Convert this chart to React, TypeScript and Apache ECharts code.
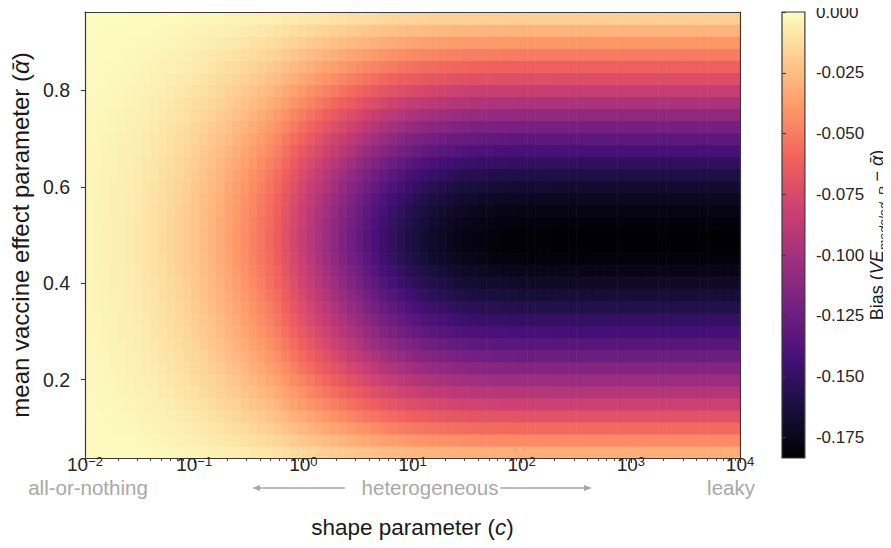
import React, { useEffect, useRef } from "react";
import * as echarts from "echarts";

// Row centres: mean vaccine effect parameter (alpha bar), bottom to top
const ALPHA_VALUES = [
  0.05, 0.075, 0.1, 0.125, 0.15, 0.175, 0.2, 0.225, 0.25, 0.275, 0.3, 0.325,
  0.35, 0.375, 0.4, 0.425, 0.45, 0.475, 0.5, 0.525, 0.55, 0.575, 0.6, 0.625,
  0.65, 0.675, 0.7, 0.725, 0.75, 0.775, 0.8, 0.825, 0.85, 0.875, 0.9, 0.925, 0.95,
];
const ALPHA_STEP = 0.025;

// Bias reached in the leaky limit (right edge of the map), one value per row above
const LEAKY_BIAS = [
  -0.031, -0.045, -0.058, -0.07, -0.082, -0.093, -0.104, -0.115, -0.125, -0.134,
  -0.143, -0.151, -0.158, -0.165, -0.171, -0.176, -0.181, -0.183, -0.183, -0.181,
  -0.178, -0.174, -0.168, -0.161, -0.152, -0.142, -0.132, -0.121, -0.109, -0.097,
  -0.085, -0.073, -0.062, -0.051, -0.04, -0.029, -0.018,
];

// Share of the leaky-limit bias reached in each shape-parameter column
// (read along the alpha = 0.5 row), columns evenly spaced in log10(c) from 1e-2 to 1e4
const HETEROGENEITY_SHARE = [
  0.016, 0.019, 0.023, 0.027, 0.032, 0.038, 0.045, 0.053, 0.062, 0.072,
  0.083, 0.095, 0.108, 0.123, 0.139, 0.156, 0.175, 0.195, 0.216, 0.238,
  0.262, 0.288, 0.316, 0.346, 0.385, 0.423, 0.46, 0.496, 0.532, 0.567,
  0.602, 0.637, 0.672, 0.706, 0.739, 0.77, 0.8, 0.827, 0.852, 0.874,
  0.894, 0.912, 0.927, 0.94, 0.951, 0.961, 0.969, 0.976, 0.981, 0.986,
  0.989, 0.992, 0.994, 0.996, 0.997, 0.998, 0.998, 0.999, 0.999, 0.999,
  1, 1, 1, 1, 1, 1, 1, 1, 1, 1,
  1, 1, 1, 1, 1, 1, 1, 1, 1, 1,
];
const SHAPE_LOG10_MIN = -2;
const SHAPE_LOG10_MAX = 4;

const X_TICKS = [0.01, 0.1, 1, 10, 100, 1000, 10000];
const Y_TICKS = [0.2, 0.4, 0.6, 0.8];
const CBAR_TICKS = [0, -0.025, -0.05, -0.075, -0.1, -0.125, -0.15, -0.175];
const CBAR_MIN = -0.1834;
const CBAR_MAX = 0;

const MAGMA = [
  "#000004", "#180f3e", "#451077", "#721f81", "#9f2f7f",
  "#cd4071", "#f1605d", "#fd9567", "#fec98d", "#fcfdbf",
];

const FONT = "'Liberation Sans', Arial, Helvetica, sans-serif";
const TEXT = "#262626";
const SPINE = "#3a3a3a";
const GRAY = "#a8a8a8";

function hexToRgb(h: string) {
  return [parseInt(h.slice(1, 3), 16), parseInt(h.slice(3, 5), 16), parseInt(h.slice(5, 7), 16)];
}
const MAGMA_RGB = MAGMA.map(hexToRgb);
function magma(v: number) {
  let t = (v - CBAR_MIN) / (CBAR_MAX - CBAR_MIN);
  t = Math.max(0, Math.min(1, t));
  const pos = t * (MAGMA_RGB.length - 1);
  const k = Math.min(MAGMA_RGB.length - 2, Math.floor(pos));
  const f = pos - k;
  const a = MAGMA_RGB[k];
  const b = MAGMA_RGB[k + 1];
  const c = a.map((x, i) => Math.round(x + (b[i] - x) * f));
  return `rgb(${c[0]},${c[1]},${c[2]})`;
}

function buildCells() {
  const n = HETEROGENEITY_SHARE.length;
  const step = (SHAPE_LOG10_MAX - SHAPE_LOG10_MIN) / n;
  const cells: number[][] = [];
  ALPHA_VALUES.forEach((a, i) => {
    HETEROGENEITY_SHARE.forEach((s, j) => {
      const cLo = Math.pow(10, SHAPE_LOG10_MIN + j * step);
      const cHi = Math.pow(10, SHAPE_LOG10_MIN + (j + 1) * step);
      cells.push([cLo, cHi, a - ALPHA_STEP / 2, a + ALPHA_STEP / 2, LEAKY_BIAS[i] * s]);
    });
  });
  return cells;
}

function minorTicks() {
  const out: number[] = [];
  for (let e = SHAPE_LOG10_MIN; e < SHAPE_LOG10_MAX; e++) {
    for (let m = 2; m <= 9; m++) out.push(m * Math.pow(10, e));
  }
  return out;
}

export default function App() {
  const ref = useRef<HTMLDivElement>(null);
  useEffect(() => {
    if (!ref.current) return;
    const chart = echarts.init(ref.current, undefined, { renderer: "svg" });
    const cells = buildCells();
    const gradStops = MAGMA.map((c, k) => ({ offset: 1 - k / (MAGMA.length - 1), color: c })).reverse();

    const grayText = (text: string, x: number) => ({
      type: "text", x, y: 487,
      style: { text, fontSize: 20.5, lineHeight: 20, fontFamily: FONT, fill: GRAY, align: "center", verticalAlign: "middle" },
    });

    const option: any = {
      animation: false,
      textStyle: { fontFamily: FONT },
      grid: [
        { left: 84, right: 151, top: 12, bottom: 90 },
        { left: 782, width: 23, top: 12, bottom: 90 },
      ],
      xAxis: [
        {
          type: "log", logBase: 10, gridIndex: 0, min: 0.01, max: 10000, position: "bottom", z: 10,
          axisLine: { show: true, lineStyle: { color: SPINE, width: 1.2 } },
          axisTick: { show: true, length: 5, inside: false, customValues: X_TICKS, lineStyle: { color: SPINE, width: 1.1 } },
          splitLine: { show: false },
          minorTick: { show: false },
          axisLabel: {
            customValues: X_TICKS, margin: 1, color: TEXT,
            formatter: (v: number) => {
              const e = Math.round(Math.log10(v));
              return `{b|10}{s|${e < 0 ? "\u2212" : ""}${Math.abs(e)}}`;
            },
            rich: {
              b: { fontSize: 19, fontFamily: FONT, color: TEXT, lineHeight: 15, verticalAlign: "bottom" },
              s: { fontSize: 13, fontFamily: FONT, color: TEXT, lineHeight: 11, verticalAlign: "bottom", padding: [0, 0, 6, 0] },
            },
          },
          name: "{n|shape parameter (}{i|c}{n|)}",
          nameLocation: "middle", nameGap: 56,
          nameTextStyle: {
            rich: {
              n: { fontSize: 22.5, fontFamily: FONT, color: "#1a1a1a", lineHeight: 26 },
              i: { fontSize: 22.5, fontFamily: FONT, fontStyle: "italic", color: "#1a1a1a", lineHeight: 26 },
            },
          },
        },
        {
          type: "log", logBase: 10, gridIndex: 0, min: 0.01, max: 10000, position: "bottom", z: 10,
          axisLine: { show: false },
          axisTick: { show: true, length: 3, customValues: minorTicks(), lineStyle: { color: SPINE, width: 0.9 } },
          axisLabel: { show: false },
          splitLine: { show: false },
        },
        {
          type: "log", logBase: 10, gridIndex: 0, min: 0.01, max: 10000, position: "top", z: 10,
          axisLine: { show: true, lineStyle: { color: SPINE, width: 1.2 } },
          axisTick: { show: false }, axisLabel: { show: false }, splitLine: { show: false },
        },
        { type: "value", gridIndex: 1, min: 0, max: 1, show: false },
      ],
      yAxis: [
        {
          type: "value", gridIndex: 0, min: 0.0375, max: 0.9625, position: "left", z: 10,
          axisLine: { show: true, lineStyle: { color: SPINE, width: 1.2 } },
          axisTick: { show: true, length: 4, customValues: Y_TICKS, lineStyle: { color: SPINE, width: 1.1 } },
          splitLine: { show: false },
          axisLabel: {
            customValues: Y_TICKS, margin: 15, fontSize: 19.5, color: TEXT, fontFamily: FONT,
            formatter: (v: number) => v.toFixed(1),
          },
          name: "{n|mean vaccine effect parameter (}{i|\u1FB1}{n|)}",
          nameLocation: "middle", nameGap: 49, nameRotate: 90,
          nameTextStyle: {
            rich: {
              n: { fontSize: 24, fontFamily: FONT, color: "#1a1a1a", lineHeight: 26 },
              i: { fontSize: 24, fontFamily: FONT, fontStyle: "italic", color: "#1a1a1a", lineHeight: 26 },
            },
          },
        },
        {
          type: "value", gridIndex: 0, min: 0.0375, max: 0.9625, position: "right", z: 10,
          axisLine: { show: true, lineStyle: { color: SPINE, width: 1.2 } },
          axisTick: { show: false }, axisLabel: { show: false }, splitLine: { show: false },
        },
        {
          type: "value", gridIndex: 1, min: CBAR_MIN, max: CBAR_MAX, position: "right", z: 10,
          axisLine: { show: false },
          axisTick: { show: true, length: 4, customValues: CBAR_TICKS, lineStyle: { color: SPINE, width: 1.1 } },
          splitLine: { show: false },
          axisLabel: {
            customValues: CBAR_TICKS, margin: 11, fontSize: 17, color: TEXT, fontFamily: FONT,
            formatter: (v: number) => (Math.abs(v) < 1e-9 ? "0.000" : v.toFixed(3)),
          },
          name: "{n|Bias (}{i|VE}{sub|modeled, R}{n| \u2212 }{i|\u1FB1}{n|)}",
          nameLocation: "middle", nameGap: 63, nameRotate: 90,
          nameTextStyle: {
            rich: {
              n: { fontSize: 18, fontFamily: FONT, color: "#1a1a1a", lineHeight: 19, verticalAlign: "top" },
              i: { fontSize: 18, fontFamily: FONT, fontStyle: "italic", color: "#1a1a1a", lineHeight: 19, verticalAlign: "top" },
              sub: { fontSize: 12.5, fontFamily: FONT, fontStyle: "italic", color: "#1a1a1a", lineHeight: 13, verticalAlign: "top", padding: [9, 0, 0, 0] },
            },
          },
        },
      ],
      series: [
        {
          type: "custom",
          xAxisIndex: 0,
          yAxisIndex: 0,
          clip: true,
          encode: { x: [0, 1], y: [2, 3] },
          data: cells,
          renderItem: (params: any, api: any) => {
            const p0 = api.coord([api.value(0), api.value(3)]);
            const p1 = api.coord([api.value(1), api.value(2)]);
            return {
              type: "rect",
              shape: { x: p0[0], y: p0[1], width: p1[0] - p0[0] + 0.6, height: p1[1] - p0[1] + 0.6 },
              style: { fill: magma(api.value(4)) },
            };
          },
        },
        {
          type: "custom",
          xAxisIndex: 3,
          yAxisIndex: 2,
          data: [[0, CBAR_MIN, 1, CBAR_MAX]],
          renderItem: (params: any, api: any) => {
            const top = api.coord([api.value(0), api.value(3)]);
            const bot = api.coord([api.value(2), api.value(1)]);
            return {
              type: "rect",
              shape: { x: top[0], y: top[1], width: bot[0] - top[0], height: bot[1] - top[1] },
              style: {
                fill: new echarts.graphic.LinearGradient(0, 0, 0, 1, gradStops),
                stroke: SPINE,
                lineWidth: 1.2,
              },
            };
          },
        },
      ],
      graphic: [
        grayText("all-or-nothing", 88),
        grayText("leaky", 731),
        grayText("heterogeneous", 430),
        { type: "line", shape: { x1: 345, y1: 488, x2: 258, y2: 488 }, style: { stroke: GRAY, lineWidth: 1.5 } },
        { type: "polygon", shape: { points: [[252, 488], [260, 485], [260, 491]] }, style: { fill: GRAY } },
        { type: "line", shape: { x1: 500, y1: 488, x2: 586, y2: 488 }, style: { stroke: GRAY, lineWidth: 1.5 } },
        { type: "polygon", shape: { points: [[592, 488], [584, 485], [584, 491]] }, style: { fill: GRAY } },
      ],
    };
    chart.setOption(option);
    return () => chart.dispose();
  }, []);
  return <div ref={ref} style={{ width: 891, height: 548, margin: -8 }} />;
}
